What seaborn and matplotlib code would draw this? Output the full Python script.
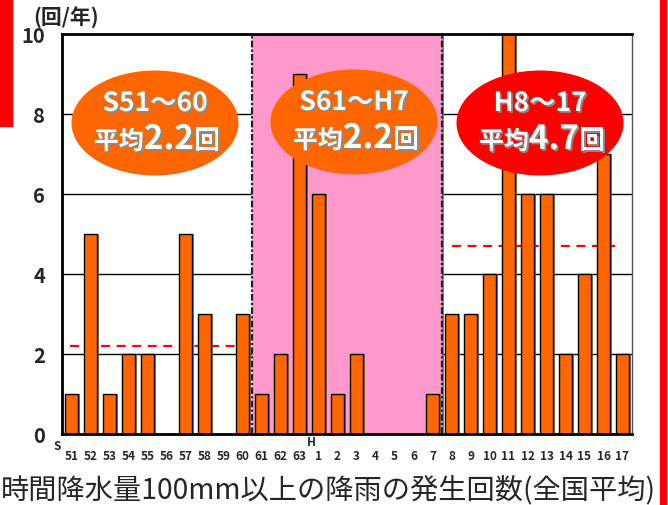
import matplotlib
matplotlib.use("Agg")
import matplotlib.pyplot as plt
import matplotlib.patheffects as pe
from matplotlib.patches import Ellipse, Rectangle
import seaborn as sns
import pandas as pd

# Annual counts of heavy-rain events (>=100 mm/h), S51 .. H17
years = ["S51", "S52", "S53", "S54", "S55", "S56", "S57", "S58", "S59", "S60",
         "S61", "S62", "S63", "H1", "H2", "H3", "H4", "H5", "H6", "H7",
         "H8", "H9", "H10", "H11", "H12", "H13", "H14", "H15", "H16", "H17"]
tick_labels = ["51", "52", "53", "54", "55", "56", "57", "58", "59", "60",
               "61", "62", "63", "1", "2", "3", "4", "5", "6", "7",
               "8", "9", "10", "11", "12", "13", "14", "15", "16", "17"]
counts = [1, 5, 1, 2, 2, 0, 5, 3, 0, 3,
          1, 2, 9, 6, 1, 2, 0, 0, 0, 1,
          3, 3, 4, 10, 6, 6, 2, 4, 7, 2]

# Period averages
period_names = ["S51～60", "S61～H7", "H8～17"]
period_avg = [2.2, 2.2, 4.7]
yticks = [0, 2, 4, 6, 8, 10]

df = pd.DataFrame({"year": years, "count": counts})

sns.set_theme(style="white")
NARROW = ["Liberation Sans Narrow", "Noto Sans CJK JP", "DejaVu Sans"]
CJK = ["Noto Sans CJK JP", "DejaVu Sans"]
plt.rcParams["font.family"] = NARROW

fig = plt.figure(figsize=(6.68, 5.06), dpi=100)
ax = fig.add_axes([62 / 668, 71 / 506, 570 / 668, 400 / 506])

# Shaded middle period
ax.axvspan(9.5, 19.5, color="#FF99CC", zorder=0, lw=0)

# Horizontal grid
for v in yticks[1:-1]:
    ax.axhline(v, color="black", lw=1.0, zorder=1)

sns.barplot(data=df, x="year", y="count", order=years, color="#FF6600",
            width=0.72, edgecolor="black", linewidth=1.0, saturation=1,
            ax=ax, zorder=3)
for p in ax.patches:
    p.set_zorder(3)
    # soft grey shading on the right edge of each bar
    p.set_path_effects([pe.SimplePatchShadow(offset=(1.2, 0), shadow_rgbFace="#666666",
                                             alpha=0.8), pe.Normal()])

# Period boundaries
for xb in (9.5, 19.5):
    ax.axvline(xb, color="#222222", lw=1.6, ls=(0, (3, 1, 1, 1)), zorder=4)

# Period average lines
dash = (0, (4, 3))
ax.plot([-0.1, 19.4], [period_avg[0], period_avg[1]], color="red", lw=1.6,
        ls=dash, zorder=2)
ax.plot([20.0, 28.6], [period_avg[2], period_avg[2]], color="red", lw=1.6,
        ls=dash, zorder=2)

ax.set_xlim(-0.5, 29.5)
ax.set_ylim(0, 10)
ax.set_xlabel("")
ax.set_ylabel("")
ax.set_yticks(yticks)
ax.set_yticklabels([str(v) for v in yticks], fontsize=14.5, fontweight="bold")
ax.set_xticks(range(len(years)))
ax.set_xticklabels(tick_labels, fontsize=8.5, fontweight="bold")
ax.tick_params(axis="x", length=0, pad=11)
ax.tick_params(axis="y", length=4, direction="in", color="#777777", pad=12)
ax.set_xticks([i + 0.5 for i in range(len(years) - 1)], minor=True)
ax.tick_params(axis="x", which="minor", length=4, direction="in",
               color="#555555", width=1)

for side in ("left", "bottom", "top"):
    ax.spines[side].set_color("black")
    ax.spines[side].set_linewidth(2)
ax.spines["right"].set_color("#555555")
ax.spines["right"].set_linewidth(1)
for s in ax.spines.values():
    s.set_zorder(6)

# Era markers
ax.text(-0.75, -0.3, "S", fontsize=8.5, fontweight="bold", ha="center", va="center")
ax.text(12.6, -0.2, "H", fontsize=8.5, fontweight="bold", ha="center", va="center")

# Period callouts
shadow = [pe.SimplePatchShadow(offset=(1.3, -1.3), shadow_rgbFace="#8a8a8a", alpha=1),
          pe.Normal()]


def px_to_data(px, py):
    return (px - 62) / 19 - 0.5, (435 - py) / 40


renderer = fig.canvas.get_renderer()
PT = 72 / fig.dpi  # points per pixel

callouts = [(155, 124, "#FF6600"), (354, 123, "#FF6600"), (540, 124, "#FF0000")]
for (cx, cy, col), name, avg in zip(callouts, period_names, period_avg):
    dx, dy = px_to_data(cx, cy)
    ax.add_patch(Ellipse((dx, dy), width=167 / 19, height=105 / 40,
                         facecolor=col, edgecolor="none", zorder=7,
                         clip_on=False))
    kw = dict(xycoords="data", textcoords="offset points", color="white",
              fontweight="bold", path_effects=shadow, zorder=8,
              annotation_clip=False)
    ax.annotate(name, (dx, dy), xytext=(0, 12 * PT), ha="center",
                va="baseline", fontsize=19, family=NARROW, **kw)

    # second line: "平均" + value + "回", laid out left to right
    pieces = [("平均", 18, CJK), (f"{avg:.1f}", 24, NARROW), ("回", 19, CJK)]
    gaps = [0, 0]
    arts = []
    for txt, fs, fam in pieces:
        a = ax.annotate(txt, (dx, dy), xytext=(0, -26 * PT), ha="left",
                        va="baseline", fontsize=fs, family=fam, **kw)
        arts.append(a)
    widths = [a.get_window_extent(renderer).width for a in arts]
    total = sum(widths) + sum(gaps)
    x0 = 2 - total / 2
    for i, a in enumerate(arts):
        a.xyann = (x0 * PT, -26 * PT)
        x0 += widths[i] + (gaps[i] if i < len(gaps) else 0)

# Unit label
fig.text(33 / 668, 1 - 18 / 506, "(回/年)", fontsize=15, fontweight="bold",
         family=CJK, ha="left", va="center")

# Caption
fig.text(1 / 668, 1 - 491 / 506, "時間降水量100mm以上の降雨の発生回数(全国平均)",
         fontsize=20.3, family=CJK, ha="left", va="center")

# Red side bars
fig.patches.append(Rectangle((0, 1 - 127 / 506), 12 / 668, 127 / 506,
                             transform=fig.transFigure, color="#FF0000", zorder=0))
fig.patches.append(Rectangle((660 / 668, 0), 6 / 668, 1,
                             transform=fig.transFigure, color="#FF0000", zorder=0))

fig.savefig("out.png", dpi=100)
